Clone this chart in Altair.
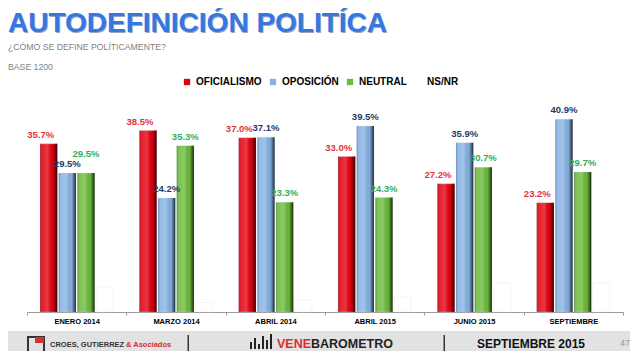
import altair as alt
import pandas as pd

categories = ["ENERO 2014", "MARZO 2014", "ABRIL 2014", "ABRIL 2015", "JUNIO 2015", "SEPTIEMBRE"]
series = ["OFICIALISMO", "OPOSICIÓN", "NEUTRAL", "NS/NR"]
oficialismo = [35.7, 38.5, 37.0, 33.0, 27.2, 23.2]
oposicion = [29.5, 24.2, 37.1, 39.5, 35.9, 40.9]
neutral = [29.5, 35.3, 23.3, 24.3, 30.7, 29.7]
nsnr = [5.3, 2.0, 2.6, 3.2, 6.2, 6.2]

bar_colors = ["#e2000f", "#86b2e4", "#6cbb3a", "#ffffff"]
label_colors = {"OFICIALISMO": "#e4323c", "OPOSICIÓN": "#1f3a68", "NEUTRAL": "#2fae5e"}
label_dx = {"OFICIALISMO": -8, "OPOSICIÓN": 0, "NEUTRAL": 0}

rows = []
for s, vals in zip(series, [oficialismo, oposicion, neutral, nsnr]):
    for i, (c, v) in enumerate(zip(categories, vals)):
        # lift a NEUTRAL label that would collide with the OPOSICIÓN label beside it
        lift = 2.2 if (s == "NEUTRAL" and abs(v - oposicion[i]) < 1.5) else 0.0
        rows.append({"cat": c, "serie": s, "valor": v, "ly": v + lift, "label": f"{v:.1f}%"})
df = pd.DataFrame(rows)

FONT = "Liberation Sans"

x_enc = alt.X("cat:N", sort=categories,
              scale=alt.Scale(paddingInner=0, paddingOuter=0),
              axis=alt.Axis(title=None, labelFont=FONT, labelFontWeight="bold", labelFontSize=7.5,
                            labelColor="#000000", labelAngle=0, labelPadding=2,
                            domainColor="#9a9a9a", tickColor="#9a9a9a", tickSize=3,
                            tickBand="extent", grid=False))
xo_enc = alt.XOffset("serie:N", sort=series, scale=alt.Scale(paddingInner=0.08, paddingOuter=0.7))
y_scale = alt.Scale(domain=[0, 45])
y_enc = alt.Y("valor:Q", scale=y_scale, axis=None)

bars = alt.Chart(df).mark_bar(stroke="#dddddd", strokeWidth=0.5, strokeOpacity=0.6).encode(
    x=x_enc, xOffset=xo_enc, y=y_enc,
    color=alt.Color("serie:N", sort=series,
                    scale=alt.Scale(domain=series, range=bar_colors),
                    legend=alt.Legend(title=None, orient="none", direction="horizontal",
                                      legendX=155, legendY=-23, symbolType="square",
                                      symbolSize=40, symbolStrokeWidth=0, labelFont=FONT,
                                      labelFontWeight="bold", labelFontSize=10,
                                      labelColor="#000000", labelOffset=4, columnPadding=6)),
)

shade = {"gradient": "linear", "x1": 0, "x2": 1, "y1": 0, "y2": 0,
         "stops": [{"offset": 0, "color": "rgba(0,0,40,0.30)"},
                   {"offset": 0.12, "color": "rgba(255,255,255,0.12)"},
                   {"offset": 0.45, "color": "rgba(255,255,255,0.22)"},
                   {"offset": 0.75, "color": "rgba(0,0,0,0.03)"},
                   {"offset": 0.9, "color": "rgba(0,0,0,0.45)"},
                   {"offset": 1, "color": "rgba(0,0,0,0.8)"}]}
overlay = alt.Chart(df).transform_filter(alt.datum.serie != "NS/NR").mark_bar(fill=shade).encode(
    x=x_enc, xOffset=xo_enc, y=y_enc)

text_layers = []
for s in ["OFICIALISMO", "OPOSICIÓN", "NEUTRAL"]:
    text_layers.append(
        alt.Chart(df).transform_filter(alt.datum.serie == s).mark_text(
            font=FONT, fontWeight="bold", fontSize=9.5, color=label_colors[s],
            baseline="bottom", dy=-4, dx=label_dx[s]).encode(
            x=x_enc, xOffset=xo_enc, y=alt.Y("ly:Q", scale=y_scale, axis=None), text="label:N"))


def note(text, x, y, size, color="#000000", weight="normal", font=FONT, align="left"):
    return alt.Chart(pd.DataFrame({"t": [text]})).mark_text(
        font=font, fontSize=size, fontWeight=weight, color=color, align=align,
        baseline="alphabetic").encode(x=alt.value(x), y=alt.value(y), text="t:N")


def box(x, x2, y, y2, color, **kw):
    return alt.Chart(pd.DataFrame({"a": [0]})).mark_rect(color=color, **kw).encode(
        x=alt.value(x), x2=alt.value(x2), y=alt.value(y), y2=alt.value(y2))


title_shadow = note("AUTODEFINICIÓN POLITÍCA", -18, -67, 28, "#9aa6bb", "bold")
title = note("AUTODEFINICIÓN POLITÍCA", -19, -68, 28, "#3677e3", "bold")
sub1 = note("¿CÓMO SE DEFINE POLÍTICAMENTE?", -19, -50, 8.7, "#7f7f7f")
sub2 = note("BASE 1200", -19, -30, 8.7, "#7f7f7f")

footer = box(-19, 610, 231, 260, "#e2e2e2")
logo_box = box(1, 17, 237, 254, "#e2e2e2", stroke="#333333", strokeWidth=2)
logo_arrow = box(8, 17, 237, 243, "#d62f2f")
croes1 = note("CROES, GUTIERREZ", 23, 247, 7.5, "#333333", "bold")
croes2 = note("& Asociados", 99, 247, 7.5, "#d62f2f", "bold")
sep1 = box(160.5, 162, 235, 260, "#333333")
sep2 = box(416.5, 418, 235, 260, "#333333")
logo_bars = [box(223 + i * 4, 225 + i * 4, 248 - h, 249, "#222222")
             for i, h in enumerate([6, 10, 4, 12, 8, 14])]
vene = note("VENE", 250, 248, 12.5, "#e02b2b", "bold")
baro = note("BAROMETRO", 284, 248, 12.5, "#222222", "bold")
sept = note("SEPTIEMBRE 2015", 450, 248, 12, "#111111", "bold")
page = note("47", 593, 246, 9, "#999999")

chart = alt.layer(
    footer, bars, overlay, *text_layers,
    title_shadow, title, sub1, sub2,
    logo_box, logo_arrow, croes1, croes2, sep1, sep2, *logo_bars, vene, baro, sept, page,
).properties(
    width=596, height=212,
    padding={"left": 19, "top": 92, "right": 7, "bottom": 39},
    autosize=alt.AutoSizeParams(type="none"),
    background="#ffffff",
).configure_view(stroke=None)

chart.save("out.html", embed_options={"renderer": "svg", "actions": False})
